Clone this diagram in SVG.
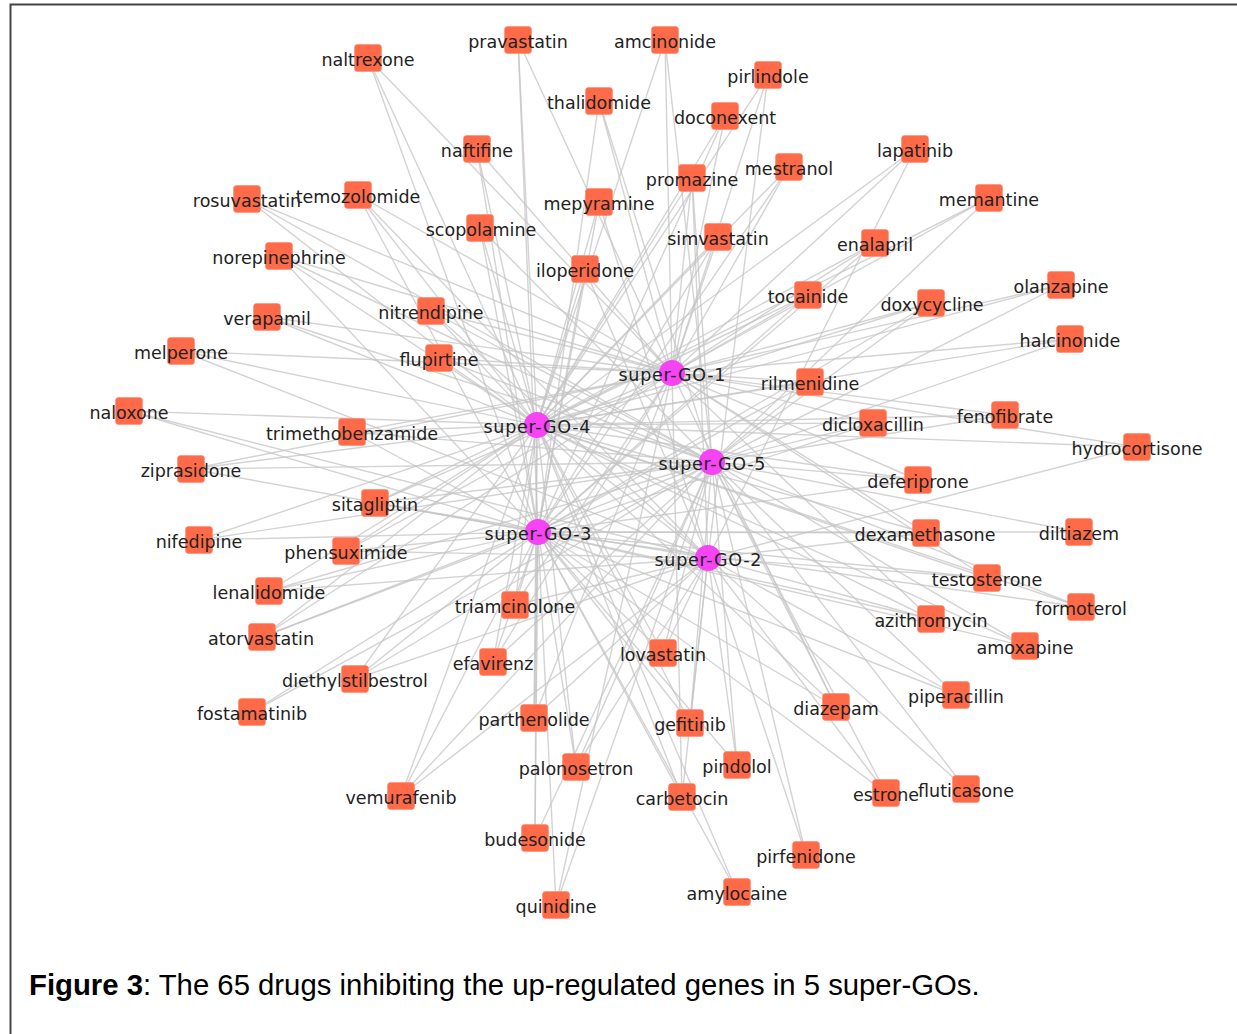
<svg xmlns="http://www.w3.org/2000/svg" width="1237" height="1034" viewBox="0 0 1237 1034">
<style>
.bg{fill:#fff}
.frame{fill:none;stroke:#444;stroke-width:2}
.e line{stroke:#c4c4c4;stroke-opacity:0.75;stroke-width:1.4}
.d rect{fill:#FF6A48;stroke:#ff8a6e;stroke-width:0.6}
.g circle{fill:#F444F4}
text.t{font-family:"DejaVu Sans",Verdana,sans-serif;font-size:17.5px;fill:#222;text-anchor:middle}
.cap{font-family:"Liberation Sans",Arial,sans-serif;font-size:29.3px;fill:#000}
</style>
<rect class="bg" x="0" y="0" width="1237" height="1034"/>
<path class="frame" d="M10.5 1034V4.5H1237"/>
<g id="connectors" class="e">
<line x1="368" y1="58" x2="672" y2="373"/><line x1="368" y1="58" x2="538" y2="532"/><line x1="368" y1="58" x2="537" y2="425"/>
<line x1="518" y1="40" x2="537" y2="425"/><line x1="518" y1="40" x2="538" y2="532"/><line x1="518" y1="40" x2="672" y2="373"/>
<line x1="665" y1="40" x2="672" y2="373"/><line x1="665" y1="40" x2="537" y2="425"/><line x1="665" y1="40" x2="712" y2="462"/>
<line x1="768" y1="75" x2="672" y2="373"/><line x1="768" y1="75" x2="537" y2="425"/><line x1="768" y1="75" x2="708" y2="558"/>
<line x1="599" y1="101" x2="672" y2="373"/><line x1="599" y1="101" x2="538" y2="532"/><line x1="599" y1="101" x2="712" y2="462"/>
<line x1="725" y1="116" x2="537" y2="425"/><line x1="725" y1="116" x2="538" y2="532"/><line x1="725" y1="116" x2="672" y2="373"/>
<line x1="477" y1="149" x2="537" y2="425"/><line x1="477" y1="149" x2="538" y2="532"/><line x1="477" y1="149" x2="672" y2="373"/>
<line x1="692" y1="178" x2="672" y2="373"/><line x1="692" y1="178" x2="712" y2="462"/><line x1="692" y1="178" x2="708" y2="558"/><line x1="692" y1="178" x2="537" y2="425"/>
<line x1="789" y1="167" x2="672" y2="373"/><line x1="789" y1="167" x2="537" y2="425"/><line x1="789" y1="167" x2="538" y2="532"/>
<line x1="599" y1="202" x2="537" y2="425"/><line x1="599" y1="202" x2="538" y2="532"/><line x1="599" y1="202" x2="708" y2="558"/>
<line x1="480" y1="228" x2="537" y2="425"/><line x1="480" y1="228" x2="538" y2="532"/><line x1="480" y1="228" x2="712" y2="462"/>
<line x1="718" y1="237" x2="672" y2="373"/><line x1="718" y1="237" x2="537" y2="425"/><line x1="718" y1="237" x2="538" y2="532"/>
<line x1="585" y1="269" x2="537" y2="425"/><line x1="585" y1="269" x2="538" y2="532"/><line x1="585" y1="269" x2="708" y2="558"/>
<line x1="808" y1="295" x2="672" y2="373"/><line x1="808" y1="295" x2="537" y2="425"/><line x1="808" y1="295" x2="538" y2="532"/>
<line x1="431" y1="311" x2="672" y2="373"/><line x1="431" y1="311" x2="537" y2="425"/><line x1="431" y1="311" x2="712" y2="462"/><line x1="431" y1="311" x2="708" y2="558"/>
<line x1="439" y1="358" x2="672" y2="373"/><line x1="439" y1="358" x2="537" y2="425"/><line x1="439" y1="358" x2="712" y2="462"/>
<line x1="915" y1="149" x2="672" y2="373"/><line x1="915" y1="149" x2="708" y2="558"/><line x1="915" y1="149" x2="537" y2="425"/>
<line x1="989" y1="198" x2="537" y2="425"/><line x1="989" y1="198" x2="672" y2="373"/><line x1="989" y1="198" x2="712" y2="462"/>
<line x1="875" y1="243" x2="672" y2="373"/><line x1="875" y1="243" x2="537" y2="425"/><line x1="875" y1="243" x2="538" y2="532"/>
<line x1="1061" y1="285" x2="672" y2="373"/><line x1="1061" y1="285" x2="537" y2="425"/><line x1="1061" y1="285" x2="712" y2="462"/>
<line x1="931" y1="303" x2="537" y2="425"/><line x1="931" y1="303" x2="672" y2="373"/><line x1="931" y1="303" x2="538" y2="532"/><line x1="931" y1="303" x2="712" y2="462"/>
<line x1="1070" y1="339" x2="672" y2="373"/><line x1="1070" y1="339" x2="537" y2="425"/><line x1="1070" y1="339" x2="712" y2="462"/>
<line x1="247" y1="199" x2="672" y2="373"/><line x1="247" y1="199" x2="712" y2="462"/><line x1="247" y1="199" x2="708" y2="558"/>
<line x1="358" y1="195" x2="537" y2="425"/><line x1="358" y1="195" x2="538" y2="532"/><line x1="358" y1="195" x2="672" y2="373"/><line x1="358" y1="195" x2="708" y2="558"/>
<line x1="279" y1="256" x2="537" y2="425"/><line x1="279" y1="256" x2="672" y2="373"/><line x1="279" y1="256" x2="712" y2="462"/><line x1="279" y1="256" x2="538" y2="532"/>
<line x1="267" y1="317" x2="537" y2="425"/><line x1="267" y1="317" x2="672" y2="373"/><line x1="267" y1="317" x2="712" y2="462"/>
<line x1="181" y1="351" x2="672" y2="373"/><line x1="181" y1="351" x2="537" y2="425"/><line x1="181" y1="351" x2="708" y2="558"/>
<line x1="129" y1="411" x2="537" y2="425"/><line x1="129" y1="411" x2="538" y2="532"/><line x1="129" y1="411" x2="708" y2="558"/>
<line x1="352" y1="432" x2="537" y2="425"/><line x1="352" y1="432" x2="672" y2="373"/><line x1="352" y1="432" x2="712" y2="462"/><line x1="352" y1="432" x2="538" y2="532"/>
<line x1="191" y1="469" x2="537" y2="425"/><line x1="191" y1="469" x2="672" y2="373"/><line x1="191" y1="469" x2="538" y2="532"/><line x1="191" y1="469" x2="712" y2="462"/>
<line x1="375" y1="503" x2="537" y2="425"/><line x1="375" y1="503" x2="538" y2="532"/><line x1="375" y1="503" x2="672" y2="373"/><line x1="375" y1="503" x2="712" y2="462"/><line x1="375" y1="503" x2="708" y2="558"/>
<line x1="199" y1="540" x2="537" y2="425"/><line x1="199" y1="540" x2="538" y2="532"/><line x1="199" y1="540" x2="712" y2="462"/>
<line x1="346" y1="551" x2="537" y2="425"/><line x1="346" y1="551" x2="538" y2="532"/><line x1="346" y1="551" x2="672" y2="373"/><line x1="346" y1="551" x2="708" y2="558"/>
<line x1="269" y1="591" x2="537" y2="425"/><line x1="269" y1="591" x2="538" y2="532"/><line x1="269" y1="591" x2="712" y2="462"/><line x1="269" y1="591" x2="708" y2="558"/>
<line x1="262" y1="637" x2="537" y2="425"/><line x1="262" y1="637" x2="538" y2="532"/><line x1="262" y1="637" x2="712" y2="462"/><line x1="262" y1="637" x2="672" y2="373"/>
<line x1="355" y1="679" x2="537" y2="425"/><line x1="355" y1="679" x2="538" y2="532"/><line x1="355" y1="679" x2="708" y2="558"/><line x1="355" y1="679" x2="712" y2="462"/>
<line x1="252" y1="712" x2="712" y2="462"/><line x1="252" y1="712" x2="538" y2="532"/>
<line x1="401" y1="796" x2="538" y2="532"/><line x1="401" y1="796" x2="537" y2="425"/><line x1="401" y1="796" x2="708" y2="558"/><line x1="401" y1="796" x2="712" y2="462"/>
<line x1="810" y1="382" x2="672" y2="373"/><line x1="810" y1="382" x2="537" y2="425"/><line x1="810" y1="382" x2="538" y2="532"/><line x1="810" y1="382" x2="712" y2="462"/>
<line x1="515" y1="605" x2="538" y2="532"/><line x1="515" y1="605" x2="537" y2="425"/><line x1="515" y1="605" x2="672" y2="373"/><line x1="515" y1="605" x2="708" y2="558"/>
<line x1="493" y1="662" x2="538" y2="532"/><line x1="493" y1="662" x2="537" y2="425"/><line x1="493" y1="662" x2="712" y2="462"/><line x1="493" y1="662" x2="672" y2="373"/>
<line x1="663" y1="653" x2="708" y2="558"/><line x1="663" y1="653" x2="538" y2="532"/><line x1="663" y1="653" x2="537" y2="425"/><line x1="663" y1="653" x2="712" y2="462"/>
<line x1="873" y1="423" x2="537" y2="425"/><line x1="873" y1="423" x2="538" y2="532"/><line x1="873" y1="423" x2="672" y2="373"/><line x1="873" y1="423" x2="712" y2="462"/>
<line x1="1005" y1="415" x2="672" y2="373"/><line x1="1005" y1="415" x2="537" y2="425"/><line x1="1005" y1="415" x2="712" y2="462"/>
<line x1="1137" y1="447" x2="672" y2="373"/><line x1="1137" y1="447" x2="708" y2="558"/><line x1="1137" y1="447" x2="537" y2="425"/>
<line x1="918" y1="480" x2="537" y2="425"/><line x1="918" y1="480" x2="672" y2="373"/><line x1="918" y1="480" x2="538" y2="532"/><line x1="918" y1="480" x2="712" y2="462"/>
<line x1="926" y1="533" x2="537" y2="425"/><line x1="926" y1="533" x2="538" y2="532"/><line x1="926" y1="533" x2="672" y2="373"/><line x1="926" y1="533" x2="708" y2="558"/>
<line x1="1079" y1="532" x2="712" y2="462"/><line x1="1079" y1="532" x2="538" y2="532"/>
<line x1="987" y1="578" x2="537" y2="425"/><line x1="987" y1="578" x2="538" y2="532"/><line x1="987" y1="578" x2="708" y2="558"/><line x1="987" y1="578" x2="672" y2="373"/>
<line x1="1081" y1="607" x2="537" y2="425"/><line x1="1081" y1="607" x2="538" y2="532"/><line x1="1081" y1="607" x2="712" y2="462"/>
<line x1="931" y1="619" x2="537" y2="425"/><line x1="931" y1="619" x2="538" y2="532"/><line x1="931" y1="619" x2="672" y2="373"/><line x1="931" y1="619" x2="708" y2="558"/>
<line x1="1025" y1="646" x2="537" y2="425"/><line x1="1025" y1="646" x2="538" y2="532"/><line x1="1025" y1="646" x2="712" y2="462"/>
<line x1="956" y1="695" x2="712" y2="462"/><line x1="956" y1="695" x2="708" y2="558"/><line x1="956" y1="695" x2="538" y2="532"/>
<line x1="836" y1="707" x2="537" y2="425"/><line x1="836" y1="707" x2="538" y2="532"/><line x1="836" y1="707" x2="672" y2="373"/><line x1="836" y1="707" x2="712" y2="462"/>
<line x1="886" y1="793" x2="708" y2="558"/><line x1="886" y1="793" x2="712" y2="462"/><line x1="886" y1="793" x2="538" y2="532"/>
<line x1="966" y1="789" x2="712" y2="462"/><line x1="966" y1="789" x2="708" y2="558"/>
<line x1="534" y1="718" x2="538" y2="532"/><line x1="534" y1="718" x2="537" y2="425"/><line x1="534" y1="718" x2="672" y2="373"/><line x1="534" y1="718" x2="708" y2="558"/>
<line x1="690" y1="723" x2="708" y2="558"/><line x1="690" y1="723" x2="712" y2="462"/><line x1="690" y1="723" x2="537" y2="425"/><line x1="690" y1="723" x2="538" y2="532"/>
<line x1="576" y1="767" x2="538" y2="532"/><line x1="576" y1="767" x2="537" y2="425"/><line x1="576" y1="767" x2="708" y2="558"/><line x1="576" y1="767" x2="712" y2="462"/>
<line x1="737" y1="765" x2="708" y2="558"/><line x1="737" y1="765" x2="712" y2="462"/><line x1="737" y1="765" x2="538" y2="532"/>
<line x1="682" y1="797" x2="538" y2="532"/><line x1="682" y1="797" x2="537" y2="425"/><line x1="682" y1="797" x2="672" y2="373"/><line x1="682" y1="797" x2="708" y2="558"/>
<line x1="535" y1="838" x2="538" y2="532"/><line x1="535" y1="838" x2="537" y2="425"/><line x1="535" y1="838" x2="712" y2="462"/>
<line x1="806" y1="855" x2="712" y2="462"/><line x1="806" y1="855" x2="708" y2="558"/>
<line x1="556" y1="905" x2="538" y2="532"/><line x1="556" y1="905" x2="672" y2="373"/><line x1="556" y1="905" x2="712" y2="462"/>
<line x1="737" y1="892" x2="538" y2="532"/><line x1="737" y1="892" x2="537" y2="425"/>
</g>
<g id="drugs" class="d">
<g id="n-naltrexone"><rect x="354.5" y="44.5" width="27" height="27" rx="3"/><text class="t" x="368" y="66">naltrexone</text></g>
<g id="n-pravastatin"><rect x="504.5" y="26.5" width="27" height="27" rx="3"/><text class="t" x="518" y="48">pravastatin</text></g>
<g id="n-amcinonide"><rect x="651.5" y="26.5" width="27" height="27" rx="3"/><text class="t" x="665" y="48">amcinonide</text></g>
<g id="n-pirlindole"><rect x="754.5" y="61.5" width="27" height="27" rx="3"/><text class="t" x="768" y="83">pirlindole</text></g>
<g id="n-thalidomide"><rect x="585.5" y="87.5" width="27" height="27" rx="3"/><text class="t" x="599" y="109">thalidomide</text></g>
<g id="n-doconexent"><rect x="711.5" y="102.5" width="27" height="27" rx="3"/><text class="t" x="725" y="124">doconexent</text></g>
<g id="n-naftifine"><rect x="463.5" y="135.5" width="27" height="27" rx="3"/><text class="t" x="477" y="157">naftifine</text></g>
<g id="n-promazine"><rect x="678.5" y="164.5" width="27" height="27" rx="3"/><text class="t" x="692" y="186">promazine</text></g>
<g id="n-mestranol"><rect x="775.5" y="153.5" width="27" height="27" rx="3"/><text class="t" x="789" y="175">mestranol</text></g>
<g id="n-mepyramine"><rect x="585.5" y="188.5" width="27" height="27" rx="3"/><text class="t" x="599" y="210">mepyramine</text></g>
<g id="n-scopolamine"><rect x="466.5" y="214.5" width="27" height="27" rx="3"/><text class="t" x="481" y="236">scopolamine</text></g>
<g id="n-simvastatin"><rect x="704.5" y="223.5" width="27" height="27" rx="3"/><text class="t" x="718" y="245">simvastatin</text></g>
<g id="n-iloperidone"><rect x="571.5" y="255.5" width="27" height="27" rx="3"/><text class="t" x="585" y="277">iloperidone</text></g>
<g id="n-tocainide"><rect x="794.5" y="281.5" width="27" height="27" rx="3"/><text class="t" x="808" y="303">tocainide</text></g>
<g id="n-nitrendipine"><rect x="417.5" y="297.5" width="27" height="27" rx="3"/><text class="t" x="431" y="319">nitrendipine</text></g>
<g id="n-flupirtine"><rect x="425.5" y="344.5" width="27" height="27" rx="3"/><text class="t" x="439" y="366">flupirtine</text></g>
<g id="n-lapatinib"><rect x="901.5" y="135.5" width="27" height="27" rx="3"/><text class="t" x="915" y="157">lapatinib</text></g>
<g id="n-memantine"><rect x="975.5" y="184.5" width="27" height="27" rx="3"/><text class="t" x="989" y="206">memantine</text></g>
<g id="n-enalapril"><rect x="861.5" y="229.5" width="27" height="27" rx="3"/><text class="t" x="875" y="251">enalapril</text></g>
<g id="n-olanzapine"><rect x="1047.5" y="271.5" width="27" height="27" rx="3"/><text class="t" x="1061" y="293">olanzapine</text></g>
<g id="n-doxycycline"><rect x="917.5" y="289.5" width="27" height="27" rx="3"/><text class="t" x="932" y="311">doxycycline</text></g>
<g id="n-halcinonide"><rect x="1056.5" y="325.5" width="27" height="27" rx="3"/><text class="t" x="1070" y="347">halcinonide</text></g>
<g id="n-rosuvastatin"><rect x="233.5" y="185.5" width="27" height="27" rx="3"/><text class="t" x="247" y="207">rosuvastatin</text></g>
<g id="n-temozolomide"><rect x="344.5" y="181.5" width="27" height="27" rx="3"/><text class="t" x="358" y="203">temozolomide</text></g>
<g id="n-norepinephrine"><rect x="265.5" y="242.5" width="27" height="27" rx="3"/><text class="t" x="279" y="264">norepinephrine</text></g>
<g id="n-verapamil"><rect x="253.5" y="303.5" width="27" height="27" rx="3"/><text class="t" x="267" y="325">verapamil</text></g>
<g id="n-melperone"><rect x="167.5" y="337.5" width="27" height="27" rx="3"/><text class="t" x="181" y="359">melperone</text></g>
<g id="n-naloxone"><rect x="115.5" y="397.5" width="27" height="27" rx="3"/><text class="t" x="129" y="419">naloxone</text></g>
<g id="n-trimethobenzamide"><rect x="338.5" y="418.5" width="27" height="27" rx="3"/><text class="t" x="352" y="440">trimethobenzamide</text></g>
<g id="n-ziprasidone"><rect x="177.5" y="455.5" width="27" height="27" rx="3"/><text class="t" x="191" y="477">ziprasidone</text></g>
<g id="n-sitagliptin"><rect x="361.5" y="489.5" width="27" height="27" rx="3"/><text class="t" x="375" y="511">sitagliptin</text></g>
<g id="n-nifedipine"><rect x="185.5" y="526.5" width="27" height="27" rx="3"/><text class="t" x="199" y="548">nifedipine</text></g>
<g id="n-phensuximide"><rect x="332.5" y="537.5" width="27" height="27" rx="3"/><text class="t" x="346" y="559">phensuximide</text></g>
<g id="n-lenalidomide"><rect x="255.5" y="577.5" width="27" height="27" rx="3"/><text class="t" x="269" y="599">lenalidomide</text></g>
<g id="n-atorvastatin"><rect x="248.5" y="623.5" width="27" height="27" rx="3"/><text class="t" x="261" y="645">atorvastatin</text></g>
<g id="n-diethylstilbestrol"><rect x="341.5" y="665.5" width="27" height="27" rx="3"/><text class="t" x="355" y="687">diethylstilbestrol</text></g>
<g id="n-fostamatinib"><rect x="238.5" y="698.5" width="27" height="27" rx="3"/><text class="t" x="252" y="720">fostamatinib</text></g>
<g id="n-vemurafenib"><rect x="387.5" y="782.5" width="27" height="27" rx="3"/><text class="t" x="401" y="804">vemurafenib</text></g>
<g id="n-rilmenidine"><rect x="796.5" y="368.5" width="27" height="27" rx="3"/><text class="t" x="810" y="390">rilmenidine</text></g>
<g id="n-triamcinolone"><rect x="501.5" y="591.5" width="27" height="27" rx="3"/><text class="t" x="515" y="613">triamcinolone</text></g>
<g id="n-efavirenz"><rect x="479.5" y="648.5" width="27" height="27" rx="3"/><text class="t" x="493" y="670">efavirenz</text></g>
<g id="n-lovastatin"><rect x="649.5" y="639.5" width="27" height="27" rx="3"/><text class="t" x="663" y="661">lovastatin</text></g>
<g id="n-dicloxacillin"><rect x="859.5" y="409.5" width="27" height="27" rx="3"/><text class="t" x="873" y="431">dicloxacillin</text></g>
<g id="n-fenofibrate"><rect x="991.5" y="401.5" width="27" height="27" rx="3"/><text class="t" x="1005" y="423">fenofibrate</text></g>
<g id="n-hydrocortisone"><rect x="1123.5" y="433.5" width="27" height="27" rx="3"/><text class="t" x="1137" y="455">hydrocortisone</text></g>
<g id="n-deferiprone"><rect x="904.5" y="466.5" width="27" height="27" rx="3"/><text class="t" x="918" y="488">deferiprone</text></g>
<g id="n-dexamethasone"><rect x="912.5" y="519.5" width="27" height="27" rx="3"/><text class="t" x="925" y="541">dexamethasone</text></g>
<g id="n-diltiazem"><rect x="1065.5" y="518.5" width="27" height="27" rx="3"/><text class="t" x="1079" y="540">diltiazem</text></g>
<g id="n-testosterone"><rect x="973.5" y="564.5" width="27" height="27" rx="3"/><text class="t" x="987" y="586">testosterone</text></g>
<g id="n-formoterol"><rect x="1067.5" y="593.5" width="27" height="27" rx="3"/><text class="t" x="1081" y="615">formoterol</text></g>
<g id="n-azithromycin"><rect x="917.5" y="605.5" width="27" height="27" rx="3"/><text class="t" x="931" y="627">azithromycin</text></g>
<g id="n-amoxapine"><rect x="1011.5" y="632.5" width="27" height="27" rx="3"/><text class="t" x="1025" y="654">amoxapine</text></g>
<g id="n-piperacillin"><rect x="942.5" y="681.5" width="27" height="27" rx="3"/><text class="t" x="956" y="703">piperacillin</text></g>
<g id="n-diazepam"><rect x="822.5" y="693.5" width="27" height="27" rx="3"/><text class="t" x="836" y="715">diazepam</text></g>
<g id="n-estrone"><rect x="872.5" y="779.5" width="27" height="27" rx="3"/><text class="t" x="886" y="801">estrone</text></g>
<g id="n-fluticasone"><rect x="952.5" y="775.5" width="27" height="27" rx="3"/><text class="t" x="966" y="797">fluticasone</text></g>
<g id="n-parthenolide"><rect x="520.5" y="704.5" width="27" height="27" rx="3"/><text class="t" x="534" y="726">parthenolide</text></g>
<g id="n-gefitinib"><rect x="676.5" y="709.5" width="27" height="27" rx="3"/><text class="t" x="690" y="731">gefitinib</text></g>
<g id="n-palonosetron"><rect x="562.5" y="753.5" width="27" height="27" rx="3"/><text class="t" x="576" y="775">palonosetron</text></g>
<g id="n-pindolol"><rect x="723.5" y="751.5" width="27" height="27" rx="3"/><text class="t" x="737" y="773">pindolol</text></g>
<g id="n-carbetocin"><rect x="668.5" y="783.5" width="27" height="27" rx="3"/><text class="t" x="682" y="805">carbetocin</text></g>
<g id="n-budesonide"><rect x="521.5" y="824.5" width="27" height="27" rx="3"/><text class="t" x="535" y="846">budesonide</text></g>
<g id="n-pirfenidone"><rect x="792.5" y="841.5" width="27" height="27" rx="3"/><text class="t" x="806" y="863">pirfenidone</text></g>
<g id="n-quinidine"><rect x="542.5" y="891.5" width="27" height="27" rx="3"/><text class="t" x="556" y="913">quinidine</text></g>
<g id="n-amylocaine"><rect x="723.5" y="878.5" width="27" height="27" rx="3"/><text class="t" x="737" y="900">amylocaine</text></g>
</g>
<g id="supergos" class="g">
<g id="n-super-GO-1"><circle cx="672" cy="373" r="13"/><text class="t" x="672" y="381" textLength="107" lengthAdjust="spacing">super-GO-1</text></g>
<g id="n-super-GO-4"><circle cx="537" cy="425" r="13"/><text class="t" x="537" y="433" textLength="107" lengthAdjust="spacing">super-GO-4</text></g>
<g id="n-super-GO-5"><circle cx="712" cy="462" r="13"/><text class="t" x="712" y="470" textLength="107" lengthAdjust="spacing">super-GO-5</text></g>
<g id="n-super-GO-3"><circle cx="538" cy="532" r="13"/><text class="t" x="538" y="540" textLength="107" lengthAdjust="spacing">super-GO-3</text></g>
<g id="n-super-GO-2"><circle cx="708" cy="558" r="13"/><text class="t" x="708" y="566" textLength="107" lengthAdjust="spacing">super-GO-2</text></g>
</g>
<text class="cap" x="29" y="995"><tspan font-weight="bold">Figure 3</tspan>: The 65 drugs inhibiting the up-regulated genes in 5 super-GOs.</text>
</svg>
